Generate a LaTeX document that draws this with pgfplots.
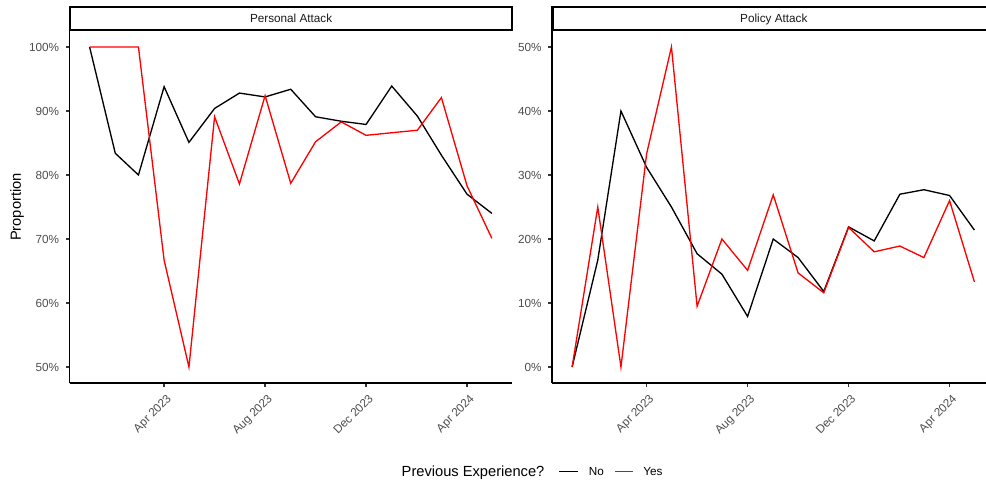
\documentclass[border=0pt]{standalone}
\usepackage{fontspec}
\setmainfont{Liberation Sans}
\usepackage{pgfplots}
\pgfplotsset{compat=1.18}
\definecolor{grey30}{HTML}{4D4D4D}
\definecolor{grey10}{HTML}{1A1A1A}
\definecolor{grey20}{HTML}{333333}
\definecolor{ggred}{HTML}{FF0000}

\pgfplotstableread{
day pno pyes qno qyes
0   100   100   0     0
31  83.4  100   16.7  25.0
59  80.0  100   40.0  0
90  93.8  66.7  31.2  33.3
120 85.1  50.0  25.0  50.0
151 90.4  89.1  17.7  9.5
181 92.8  78.6  14.5  20.0
212 92.2  92.4  7.9   15.1
243 93.4  78.7  20.0  26.9
273 89.1  85.2  17.1  14.7
304 88.4  88.3  11.8  11.6
334 87.9  86.2  21.9  21.8
365 93.9  86.6  19.7  18.0
396 89.2  87.0  27.0  18.9
425 83.1  92.1  27.7  17.1
456 77.0  78.3  26.8  26.0
486 74.0  70.1  21.4  13.3
}\datatable

\pgfplotsset{
  facet/.style={
    scale only axis, width=331.875pt, height=264pt,
    xmin=-24.3, xmax=510.3,
    axis x line*=bottom, axis y line*=left,
    axis line style={line width=1pt, black, -},
    tick align=outside, major tick length=2.74pt,
    tick style={line width=1pt, grey20},
    xtick={90,212,334,456},
    xticklabels={Apr 2023,Aug 2023,Dec 2023,Apr 2024},
    xticklabel style={rotate=45, anchor=north east, inner sep=0pt,
      xshift=-2.5pt, yshift=-4.5pt,
      font=\fontsize{8.8}{10}\selectfont, text=grey30},
    yticklabel style={anchor=east, inner sep=0pt, xshift=-4.9pt,
      font=\fontsize{8.8}{10}\selectfont, text=grey30},
    yticklabel={\pgfmathprintnumber{\tick}\%},
    /pgf/number format/assume math mode=true,
    minor tick num=0,
    clip=false,
  },
}

\begin{document}
\begin{tikzpicture}
\path[use as bounding box] (0pt,0pt) rectangle (739.5pt,-362.25pt);

\begin{axis}[facet, name=left,
  at={(52.125pt,-287.25pt)}, anchor=south west,
  ymin=47.5, ymax=102.5, ytick={50,60,70,80,90,100},
  ylabel={Proportion},
  ylabel style={at={(axis description cs:-0.1096,0.5)}, anchor=base,
    font=\fontsize{11}{13}\selectfont, text=black, inner sep=0pt},
]
\addplot[black, line width=1pt] table[x=day, y=pno] {\datatable};
\addplot[ggred, line width=1pt] table[x=day, y=pyes] {\datatable};
\end{axis}

\begin{axis}[facet, name=right,
  at={(414pt,-287.25pt)}, anchor=south west,
  ymin=-2.5, ymax=52.5, ytick={0,10,20,30,40,50},
]
\addplot[black, line width=1pt] table[x=day, y=qno] {\datatable};
\addplot[ggred, line width=1pt] table[x=day, y=qyes] {\datatable};
\end{axis}

% facet strips
\draw[line width=1.6pt, black, fill=white] (52.5pt,-5.25pt) rectangle (384.2pt,-22.5pt);
\draw[line width=1.6pt, black, fill=white] (414.4pt,-5.25pt) rectangle (746.3pt,-22.5pt);
\node[anchor=base, inner sep=0pt, font=\fontsize{8.8}{10}\selectfont, text=grey10]
  at (218.35pt,-17.0pt) {Personal Attack};
\node[anchor=base, inner sep=0pt, font=\fontsize{8.8}{10}\selectfont, text=grey10]
  at (580.35pt,-17.0pt) {Policy Attack};

% legend
\node[anchor=base west, inner sep=0pt, font=\fontsize{11}{13}\selectfont]
  at (301.1pt,-357.4pt) {Previous Experience?};
\draw[black, line width=1pt] (419.6pt,-353.6pt) -- (433.5pt,-353.6pt);
\node[anchor=base west, inner sep=0pt, font=\fontsize{8.8}{10}\selectfont]
  at (441.5pt,-356.75pt) {No};
\draw[ggred, line width=1pt] (461.25pt,-353.6pt) -- (474.75pt,-353.6pt);
\node[anchor=base west, inner sep=0pt, font=\fontsize{8.8}{10}\selectfont]
  at (482.25pt,-356.75pt) {Yes};
\end{tikzpicture}
\end{document}
